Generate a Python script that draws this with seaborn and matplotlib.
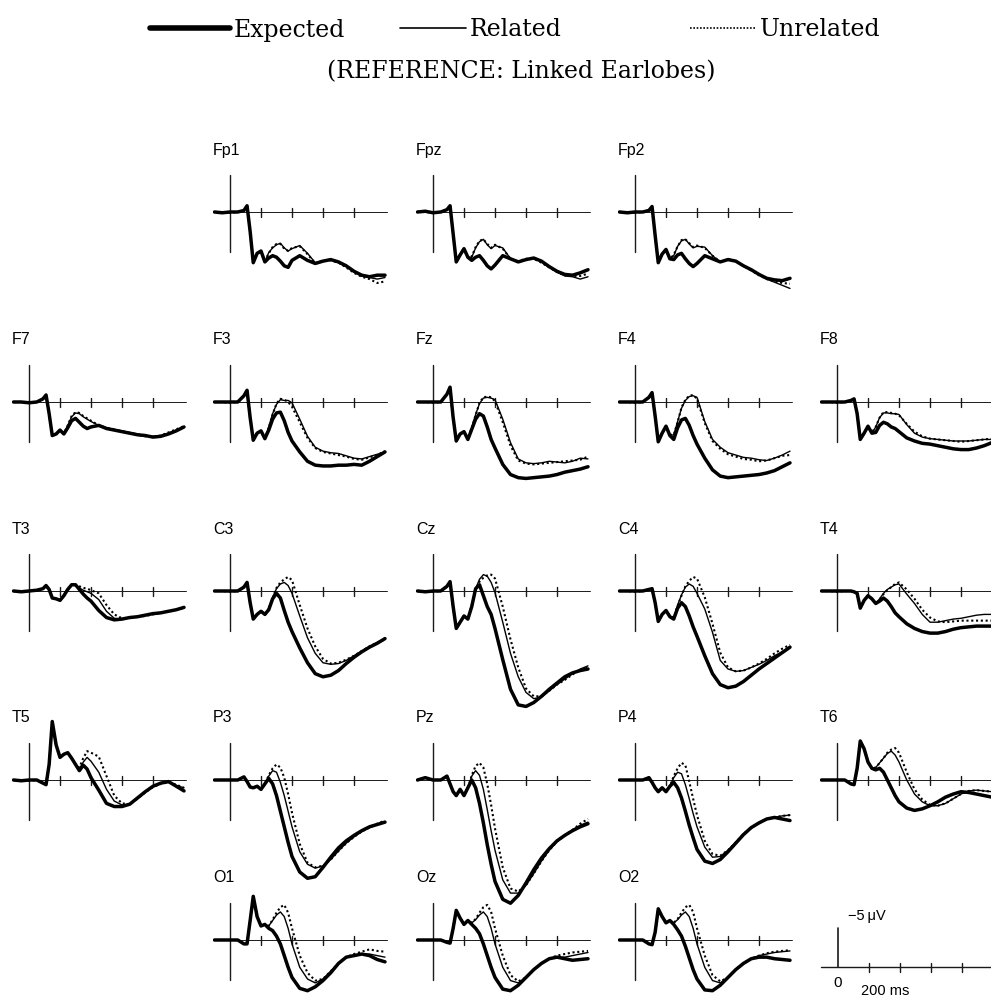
import numpy as np
import pandas as pd
import matplotlib
matplotlib.use("Agg")
import matplotlib.pyplot as plt
from matplotlib.lines import Line2D
import seaborn as sns

sns.set_theme(style="white")
plt.rcParams['font.family'] = ['DejaVu Sans']
plt.rcParams['text.color'] = 'black'

# ---------------- data (µV, negative up) ----------------
T = [-100, -50, 0, 50, 90, 110, 130, 150, 175, 200, 225, 250, 275, 300, 325,
     350, 375, 400, 450, 500, 550, 600, 650, 700, 750, 800, 850, 900, 950, 1000]

CONDITIONS = ["Expected", "Related", "Unrelated"]

Fp1_exp = [0,0.1,0,0,-0.2,-0.8,2.5,6.5,5.3,5.0,6.4,5.9,5.6,5.8,6.3,6.9,7.1,6.2,5.6,6.2,6.6,6.3,6.1,6.4,6.9,7.6,8.1,8.3,8.1,8.1]
Fp1_rel = [0,0.1,0,0,-0.2,-0.8,2.5,6.5,5.3,5.0,6.4,5.2,4.6,4.2,4.0,4.6,5.0,4.7,4.3,5.3,6.5,6.3,6.1,6.5,7.0,7.7,8.2,8.4,8.6,8.4]
Fp1_unr = [0,0,0.1,0,-0.2,-0.7,2.6,6.4,5.4,5.0,6.3,5.3,4.5,4.1,4.1,4.7,5.0,4.6,4.4,5.4,6.6,6.2,6.2,6.5,7.1,7.8,8.3,8.6,9.1,8.9]

Fpz_exp = [0,-0.1,0.1,0,-0.3,-0.8,2.8,6.4,5.5,4.7,5.8,6.2,5.8,5.6,6.2,6.9,7.3,6.8,5.6,6.0,6.4,6.1,5.9,6.3,7.0,7.6,8.0,8.1,7.8,7.4]
Fpz_rel = [0,-0.1,0.1,0,-0.3,-0.8,2.8,6.4,5.5,4.7,5.8,5.8,4.6,3.8,3.5,4.2,4.7,4.3,4.6,6.0,6.3,6.1,5.9,6.4,7.1,7.7,8.2,8.3,8.6,8.3]
Fpz_unr = [0,0,0.1,0,-0.3,-0.7,2.9,6.3,5.5,4.8,5.8,5.7,4.5,3.7,3.5,4.1,4.6,4.2,4.7,6.0,6.3,6.0,6.0,6.5,7.1,7.7,8.1,8.2,8.2,7.9]

Fp2_exp = [0,0.1,0,0,-0.2,-0.7,3.0,6.5,5.4,4.8,6.0,6.1,5.5,5.3,6.0,6.6,7.0,6.6,5.6,6.0,6.4,6.1,6.3,6.9,7.4,8.0,8.5,8.7,8.8,8.5]
Fp2_rel = [0,0.1,0,0,-0.2,-0.7,3.0,6.5,5.4,4.8,6.0,5.6,4.4,3.7,3.5,4.1,4.6,4.4,4.5,5.6,6.4,6.1,6.3,6.9,7.4,8.0,8.6,9.0,9.4,9.8]
Fp2_unr = [0,0,0.1,0,-0.2,-0.6,3.1,6.4,5.4,4.9,6.0,5.5,4.4,3.6,3.5,4.0,4.5,4.3,4.6,5.6,6.4,6.0,6.3,6.9,7.5,8.1,8.6,8.9,9.1,9.2]

F7_exp = [0,0,0.1,0,-0.4,-0.9,1.5,4.3,4.1,3.6,4.1,3.3,2.4,2.1,2.6,3.1,3.4,3.2,3.0,3.4,3.6,3.8,4.0,4.2,4.3,4.5,4.4,4.1,3.7,3.2]
F7_rel = [0,0,0.1,0,-0.4,-0.9,1.5,4.3,4.1,3.6,4.1,3.0,1.9,1.4,1.5,1.9,2.2,2.5,3.0,3.3,3.5,3.7,3.9,4.1,4.3,4.4,4.3,4.0,3.6,3.2]
F7_unr = [0,0,0,0,-0.4,-0.8,1.6,4.2,4.1,3.6,4.0,3.0,1.8,1.3,1.4,1.8,2.1,2.4,3.0,3.3,3.5,3.8,4.0,4.2,4.4,4.5,4.3,3.9,3.5,3.1]

F3_exp = [0,0,0,0,-0.8,-1.5,2.0,4.9,4.0,3.7,4.7,3.6,2.2,1.4,1.3,2.4,3.9,5.0,6.4,7.6,8.1,8.2,8.2,8.1,8.1,8.0,8.1,7.6,7.0,6.4]
F3_rel = [0,0,0,0,-0.8,-1.5,2.0,4.9,4.0,3.7,4.7,3.2,1.5,0.3,-0.3,-0.2,-0.2,0.1,2.2,4.4,5.8,6.3,6.5,6.6,6.9,7.2,7.3,7.0,6.7,6.4]
F3_unr = [0,0,0.1,0,-0.8,-1.4,2.1,4.8,4.0,3.7,4.6,3.3,1.6,0.2,-0.4,-0.3,0.0,0.6,2.6,4.6,5.9,6.4,6.6,6.8,7.0,7.3,7.4,7.1,6.8,6.3]

Fz_exp = [0,0,0,0,-1.0,-1.9,2.0,5.0,4.1,3.8,4.8,3.5,2.2,1.5,1.8,3.2,4.8,5.9,8.0,9.3,9.7,9.8,9.7,9.6,9.5,9.3,9.0,8.8,8.6,8.3]
Fz_rel = [0,0,0,0,-1.0,-1.9,2.0,5.0,4.1,3.8,4.8,3.3,1.6,0.2,-0.5,-0.6,-0.5,-0.3,2.2,5.2,7.3,7.8,7.9,7.8,7.6,7.7,7.8,7.6,7.2,7.3]
Fz_unr = [0,0,0.1,0,-1.0,-1.8,2.1,4.9,4.1,3.8,4.7,3.3,1.7,0.1,-0.6,-0.7,-0.6,-0.1,2.6,5.6,7.5,7.9,8.0,7.9,7.8,7.7,7.6,7.5,7.4,7.0]

F4_exp = [0,0,0,0,-0.6,-1.2,1.8,5.1,4.0,3.1,4.3,4.8,3.3,2.3,2.1,3.0,4.3,5.4,7.2,8.7,9.5,9.7,9.6,9.5,9.4,9.3,9.1,8.8,8.3,7.8]
F4_rel = [0,0,0,0,-0.6,-1.2,1.8,5.1,4.0,3.1,4.3,4.2,2.5,0.8,-0.2,-0.7,-0.8,-0.6,2.5,4.8,5.8,6.5,6.8,7.1,7.2,7.4,7.5,7.2,6.8,6.3]
F4_unr = [0,0,0.1,0,-0.6,-1.1,1.9,5.0,4.0,3.1,4.2,4.2,2.6,0.7,-0.3,-0.8,-0.9,-0.4,2.7,5.0,6.0,6.7,7.0,7.3,7.4,7.6,7.5,7.2,6.9,6.8]

F8_exp = [0,0,0,0,-0.2,-0.4,1.5,4.8,4.0,3.1,4.0,3.9,3.0,2.6,2.8,3.2,3.4,3.8,4.6,5.0,5.3,5.4,5.6,5.8,6.0,6.1,6.1,5.9,5.6,5.2]
F8_rel = [0,0,0,0,-0.2,-0.4,1.5,4.8,4.0,3.1,4.0,3.2,2.0,1.4,1.4,1.5,1.5,1.6,2.9,4.0,4.5,4.7,4.8,4.9,5.0,5.0,5.0,4.9,4.8,4.8]
F8_unr = [0,0,0.1,0,-0.2,-0.3,1.6,4.7,4.0,3.1,3.9,3.2,2.0,1.3,1.3,1.4,1.5,1.7,2.8,3.8,4.4,4.7,4.8,4.9,5.0,5.1,5.0,4.9,4.8,4.7]

T3_exp = [0,0.1,0,-0.1,-0.3,-0.7,-0.2,0.9,1.0,1.2,0.6,-0.2,-0.8,-0.8,-0.2,0.4,0.9,1.3,2.5,3.4,3.7,3.6,3.4,3.3,3.1,2.9,2.8,2.6,2.4,2.1]
T3_rel = [0,0.1,0,-0.1,-0.3,-0.7,-0.2,0.9,1.0,1.2,0.6,-0.2,-0.8,-0.7,-0.4,-0.1,0.1,0.3,1.1,2.6,3.5,3.6,3.4,3.3,3.1,2.9,2.8,2.6,2.4,2.1]
T3_unr = [0,0,0,-0.1,-0.3,-0.6,-0.1,0.9,1.0,1.1,0.6,-0.2,-0.8,-0.8,-0.6,-0.4,-0.3,-0.1,0.3,1.8,3.0,3.5,3.4,3.3,3.2,3.0,2.8,2.6,2.4,2.2]

C3_exp = [0,0,0,0,-0.5,-1.1,1.5,3.6,3.0,2.6,3.0,2.4,1.0,0.3,0.9,2.5,4.0,5.2,7.3,9.2,10.6,11.0,10.8,10.2,9.3,8.5,7.8,7.2,6.7,6.1]
C3_rel = [0,0,0,0,-0.5,-1.1,1.5,3.6,3.0,2.6,3.0,2.2,0.8,-0.3,-0.9,-1.1,-0.7,0.3,3.2,6.0,8.0,9.2,9.4,9.3,8.9,8.3,7.7,7.2,6.6,6.1]
C3_unr = [0,0,0.1,0,-0.5,-1.0,1.6,3.5,3.0,2.6,3.0,2.3,0.9,-0.4,-1.1,-1.5,-1.8,-1.4,1.8,4.8,7.1,8.7,9.3,9.2,8.8,8.3,7.7,7.1,6.6,6.2]

Cz_exp = [0,0.1,0,0,-0.6,-1.2,2.0,4.8,4.0,3.2,3.6,2.0,-0.3,-0.8,0.6,2.0,3.0,4.8,8.8,12.6,14.6,14.8,14.3,13.5,12.6,11.8,11.0,10.5,10.2,10.0]
Cz_rel = [0,0.1,0,0,-0.6,-1.2,2.0,4.8,4.0,3.2,3.6,1.8,-0.3,-1.5,-2.1,-1.9,-1.1,0.2,4.0,8.0,11.0,13.0,13.8,13.6,12.8,12.0,11.3,10.6,10.0,9.6]
Cz_unr = [0,0,0.1,0,-0.6,-1.1,2.1,4.7,4.0,3.2,3.6,1.8,-0.2,-1.2,-1.7,-2.0,-2.1,-1.6,2.0,6.2,9.8,12.5,13.5,13.5,12.8,12.0,11.4,10.7,10.1,9.8]

C4_exp = [0,0,0,0,-0.2,-0.3,1.5,3.9,3.0,2.5,3.3,3.6,2.2,1.5,2.0,3.2,4.6,5.8,8.3,10.6,12.0,12.4,12.2,11.6,10.8,10.0,9.3,8.6,7.9,7.2]
C4_rel = [0,0,0,0,-0.2,-0.3,1.5,3.9,3.0,2.5,3.3,3.4,1.8,0.5,-0.5,-0.9,-0.6,0.3,2.3,5.3,8.9,10.0,10.3,10.2,9.8,9.4,8.9,8.3,7.8,7.2]
C4_unr = [0,0,0.1,0,-0.2,-0.2,1.6,3.8,3.0,2.5,3.2,3.4,1.9,0.6,-0.6,-1.3,-1.8,-1.6,0.8,4.2,7.9,9.8,10.3,10.2,9.8,9.3,8.7,8.0,7.4,6.9]

T4_exp = [0,0,0,0,0,0.1,0.3,2.2,1.2,0.6,1.0,1.6,1.3,0.9,1.3,2.0,2.8,3.3,4.2,4.8,5.2,5.4,5.4,5.2,4.9,4.7,4.6,4.5,4.5,4.5]
T4_rel = [0,0,0,0,0,0.1,0.3,2.2,1.2,0.6,1.0,1.6,1.0,0.3,-0.2,-0.5,-0.8,-0.9,0.4,1.6,3.0,4.0,4.0,3.8,3.6,3.5,3.3,3.1,3.0,3.0]
T4_unr = [0,0,0.1,0,0,0.1,0.4,2.1,1.2,0.6,1.0,1.6,1.1,0.4,-0.1,-0.5,-0.9,-1.1,-0.2,1.0,2.4,3.4,3.9,4.0,3.9,3.8,3.8,3.8,3.8,3.8]

T5_exp = [0,0.1,0,0,0.4,0.6,-2.0,-7.5,-4.5,-2.9,-3.3,-3.5,-2.8,-2.0,-1.2,-1.9,-1.4,-0.3,1.3,3.0,3.4,3.4,3.1,2.3,1.5,0.8,0.4,0.2,0.8,1.4]
T5_rel = [0,0.1,0,0,0.4,0.6,-2.0,-7.5,-4.5,-2.9,-3.3,-3.5,-2.8,-2.0,-1.4,-2.3,-2.9,-2.4,-1.0,1.2,2.7,3.2,3.1,2.4,1.5,0.8,0.4,0.3,0.7,1.0]
T5_unr = [0,0,0.1,0,0.4,0.5,-1.9,-7.4,-4.5,-2.9,-3.3,-3.5,-2.8,-2.0,-1.6,-2.8,-3.7,-3.5,-3.0,-0.5,2.0,3.0,3.1,2.4,1.6,0.9,0.5,0.3,0.6,1.0]

P3_exp = [0,0,0,0,-0.4,0.2,0.9,1.0,0.8,1.2,0.5,-0.2,0.5,2.0,4.0,6.0,8.0,9.8,11.8,12.6,12.4,11.2,9.9,8.7,7.8,7.1,6.5,6.0,5.7,5.4]
P3_rel = [0,0,0,0,-0.4,0.2,0.9,1.0,0.8,1.2,0.5,-0.5,-1.2,-1.0,0.3,2.0,4.0,6.0,9.2,10.8,11.3,11.0,10.2,9.1,8.1,7.3,6.6,6.1,5.7,5.4]
P3_unr = [0,0,0,0,-0.4,0.2,0.9,1.0,0.8,1.2,0.5,-0.6,-1.5,-2.0,-1.6,-0.3,1.8,4.2,8.2,10.6,11.2,11.0,10.2,9.1,8.1,7.3,6.6,6.1,5.6,5.2]

Pz_exp = [0,-0.3,0,0,-0.5,0.5,1.5,2.0,1.2,2.0,1.0,0.0,1.0,3.0,5.5,8.3,10.8,13.0,15.3,15.8,14.8,13.2,11.5,10.0,8.8,7.8,7.1,6.5,6.0,5.6]
Pz_rel = [0,-0.3,0,0,-0.5,0.5,1.5,2.0,1.2,2.0,1.0,-0.5,-1.2,-0.6,1.2,3.8,6.5,9.0,12.8,14.5,14.5,13.5,12.0,10.4,9.0,7.9,7.1,6.4,5.8,5.4]
Pz_unr = [0,-0.3,0,0,-0.5,0.5,1.5,2.0,1.2,2.0,1.0,-0.6,-1.8,-2.2,-1.6,0.5,3.2,6.2,11.2,13.9,14.3,13.5,12.0,10.4,9.0,7.9,7.1,6.4,5.6,5.0]

P4_exp = [0,0,0,0,-0.3,0.3,1.0,1.5,1.0,1.5,0.8,0.3,1.0,2.3,4.0,5.8,7.4,8.9,10.4,10.7,10.2,9.2,8.1,7.0,6.1,5.5,5.0,4.8,5.0,5.2]
P4_rel = [0,0,0,0,-0.3,0.3,1.0,1.5,1.0,1.5,0.8,-0.3,-1.0,-0.8,0.6,2.4,4.3,6.0,8.6,9.9,9.8,9.0,8.0,6.9,6.1,5.5,5.0,4.8,4.6,4.5]
P4_unr = [0,0,0,0,-0.3,0.3,1.0,1.5,1.0,1.5,0.8,-0.5,-1.5,-2.2,-1.9,0.2,2.4,4.5,7.8,9.5,9.7,9.0,8.0,6.9,6.1,5.5,5.0,4.8,4.6,4.5]

T6_exp = [0,0,0,0,0.5,0.6,-1.5,-5.0,-4.0,-2.3,-1.5,-1.3,-1.5,-1.0,0.0,1.0,2.0,2.8,3.6,3.9,3.7,3.3,2.8,2.2,1.8,1.5,1.6,1.8,2.0,2.2]
T6_rel = [0,0,0,0,0.5,0.6,-1.5,-5.0,-4.0,-2.3,-1.5,-1.6,-2.2,-2.8,-3.4,-3.7,-3.2,-2.3,0.0,1.8,2.8,3.3,3.3,3.0,2.4,1.8,1.4,1.3,1.4,1.5]
T6_unr = [0,0,0,0,0.5,0.6,-1.5,-5.0,-4.0,-2.3,-1.5,-1.6,-2.2,-2.8,-3.5,-3.9,-4.1,-3.5,-1.0,1.2,2.5,3.2,3.3,3.0,2.4,1.8,1.4,1.3,1.4,1.5]

O1_exp = [0,0,0,0,0.5,0.5,-2.5,-5.6,-3.0,-1.8,-2.0,-1.5,-1.2,-0.5,0.5,2.0,3.5,4.8,6.2,6.5,6.0,5.2,4.2,3.0,2.2,2.0,1.8,2.0,2.5,2.8]
O1_rel = [0,0,0,0,0.5,0.5,-2.5,-5.6,-3.0,-1.8,-2.0,-1.8,-2.5,-3.2,-3.6,-3.0,-1.5,0.5,3.5,5.0,5.5,5.0,4.0,3.0,2.2,2.0,1.8,1.8,2.0,2.2]
O1_unr = [0,0,0,0,0.5,0.5,-2.5,-5.6,-3.0,-1.8,-2.0,-1.8,-2.6,-3.5,-4.2,-4.5,-3.5,-1.5,2.0,4.2,5.2,5.0,4.0,3.0,2.2,1.8,1.5,1.2,1.4,1.5]

Oz_exp = [0,0,0,0,0.3,0.4,-1.5,-3.8,-2.8,-2.0,-2.5,-2.0,-1.5,-0.8,0.5,2.0,3.5,4.8,6.3,6.5,5.8,4.8,3.8,3.0,2.4,2.2,2.4,2.6,2.5,2.4]
Oz_rel = [0,0,0,0,0.3,0.4,-1.5,-3.8,-2.8,-2.0,-2.5,-2.2,-2.6,-3.2,-3.6,-3.0,-1.5,0.5,3.5,5.2,5.5,4.8,3.8,3.0,2.4,2.2,2.2,2.0,1.8,1.6]
Oz_unr = [0,0,0,0,0.3,0.4,-1.5,-3.8,-2.8,-2.0,-2.5,-2.2,-2.7,-3.5,-4.2,-4.5,-3.6,-1.5,2.0,4.5,5.3,4.8,3.8,3.0,2.4,2.0,1.8,1.6,1.5,1.4]

O2_exp = [0,0,0,0,0.5,0.6,-1.0,-4.0,-3.0,-2.2,-2.5,-2.0,-1.3,-0.5,0.8,2.3,3.8,5.0,6.4,6.5,5.8,4.8,3.8,3.0,2.4,2.2,2.2,2.4,2.5,2.6]
O2_rel = [0,0,0,0,0.5,0.6,-1.0,-4.0,-3.0,-2.2,-2.5,-2.2,-2.6,-3.2,-3.6,-3.0,-1.5,0.5,3.5,5.2,5.5,4.8,3.8,3.0,2.4,2.0,1.8,1.6,1.5,1.4]
O2_unr = [0,0,0,0,0.5,0.6,-1.0,-4.0,-3.0,-2.2,-2.5,-2.2,-2.7,-3.5,-4.2,-4.5,-3.6,-1.5,2.0,4.5,5.3,4.8,3.8,3.0,2.4,2.0,1.7,1.5,1.4,1.3]

# ---------------- layout (pixel positions of onset / baseline) ----------------
COLS = [29, 230, 433, 635, 837]
ROWS = [212, 402, 591, 780, 940]
PANELS = [
    ("Fp1", 1, 0, Fp1_exp, Fp1_rel, Fp1_unr), ("Fpz", 2, 0, Fpz_exp, Fpz_rel, Fpz_unr),
    ("Fp2", 3, 0, Fp2_exp, Fp2_rel, Fp2_unr),
    ("F7", 0, 1, F7_exp, F7_rel, F7_unr), ("F3", 1, 1, F3_exp, F3_rel, F3_unr),
    ("Fz", 2, 1, Fz_exp, Fz_rel, Fz_unr), ("F4", 3, 1, F4_exp, F4_rel, F4_unr),
    ("F8", 4, 1, F8_exp, F8_rel, F8_unr),
    ("T3", 0, 2, T3_exp, T3_rel, T3_unr), ("C3", 1, 2, C3_exp, C3_rel, C3_unr),
    ("Cz", 2, 2, Cz_exp, Cz_rel, Cz_unr), ("C4", 3, 2, C4_exp, C4_rel, C4_unr),
    ("T4", 4, 2, T4_exp, T4_rel, T4_unr),
    ("T5", 0, 3, T5_exp, T5_rel, T5_unr), ("P3", 1, 3, P3_exp, P3_rel, P3_unr),
    ("Pz", 2, 3, Pz_exp, Pz_rel, Pz_unr), ("P4", 3, 3, P4_exp, P4_rel, P4_unr),
    ("T6", 4, 3, T6_exp, T6_rel, T6_unr),
    ("O1", 1, 4, O1_exp, O1_rel, O1_unr), ("Oz", 2, 4, Oz_exp, Oz_rel, Oz_unr),
    ("O2", 3, 4, O2_exp, O2_rel, O2_unr),
]

STYLE = {
    "Expected": dict(lw=2.5, ls="-"),
    "Related": dict(lw=1.0, ls="-"),
    "Unrelated": dict(lw=1.5, ls=(0, (1, 1.3))),
}

W, H = 991, 1007
fig = plt.figure(figsize=(W / 100, H / 100), dpi=100)
fig.patch.set_facecolor("white")

PX_MS = 0.155
PX_UV = 7.8
T_LO, T_HI = -112, 1012
V_TOP, V_BOT = -9.0, 17.0


def make_axes(onset, base):
    left = onset + T_LO * PX_MS
    width = (T_HI - T_LO) * PX_MS
    top = base + V_TOP * PX_UV
    height = (V_BOT - V_TOP) * PX_UV
    ax = fig.add_axes([left / W, 1 - (top + height) / H, width / W, height / H])
    ax.set_xlim(T_LO, T_HI)
    ax.set_ylim(V_BOT, V_TOP)
    ax.set_axis_off()
    ax.patch.set_alpha(0)
    return ax


def frame(ax, up=-4.8, down=5.1):
    ax.plot([-110, 1010], [0, 0], color="k", lw=0.7, clip_on=False)
    ax.plot([0, 0], [up, down], color="k", lw=1.0, clip_on=False)
    for t in (200, 400, 600, 800):
        ax.plot([t, t], [-0.55, 0.6], color="k", lw=1.0, clip_on=False)


for name, c, r, e, rl, u in PANELS:
    onset, base = COLS[c], ROWS[r]
    ax = make_axes(onset, base)
    frame(ax)
    df = pd.DataFrame({
        "t": T * 3,
        "v": list(e) + list(rl) + list(u),
        "cond": ["Expected"] * len(T) + ["Related"] * len(T) + ["Unrelated"] * len(T),
    })
    for cond in ["Unrelated", "Related", "Expected"]:
        sub = df[df["cond"] == cond]
        sns.lineplot(data=sub, x="t", y="v", ax=ax, color="black",
                     linewidth=STYLE[cond]["lw"], linestyle=STYLE[cond]["ls"],
                     estimator=None, sort=False, legend=False)
    ax.set_xlim(T_LO, T_HI)
    ax.set_ylim(V_BOT, V_TOP)
    ax.set_axis_off()
    fig.text((onset - 17) / W, 1 - (base - 62) / H, name, ha="left", va="center",
             fontsize=11.5, color="black", family=["Liberation Sans", "DejaVu Sans"])

# calibration
ax = make_axes(838, 967)
ax.plot([-110, 1010], [0, 0], color="k", lw=1.0, clip_on=False)
ax.plot([0, 0], [-5, 0], color="k", lw=1.2, clip_on=False)
for t in (200, 400, 600, 800):
    ax.plot([t, t], [-0.55, 0.6], color="k", lw=1.0, clip_on=False)
fig.text(848 / W, 1 - 916 / H, "\u22125\u2009\u03bcV", ha="left", va="center",
         fontsize=10.5, color="black", family=["Liberation Sans", "DejaVu Sans"])
fig.text(838 / W, 1 - 983 / H, "0", ha="center", va="center",
         fontsize=11, color="black", family=["Liberation Sans", "DejaVu Sans"])
fig.text(885 / W, 1 - 991 / H, "200 ms", ha="center", va="center",
         fontsize=10.5, color="black", family=["Liberation Sans", "DejaVu Sans"])

# legend / header
serif = ["DejaVu Serif"]
def fig_line(x0, x1, y, **kw):
    fig.add_artist(Line2D([x0 / W, x1 / W], [1 - y / H, 1 - y / H],
                          transform=fig.transFigure, color="black", **kw))

fig_line(150, 230, 28, lw=4.0)
fig.text(234 / W, 1 - 30 / H, "Expected", ha="left", va="center", fontsize=17,
         color="black", family=serif)
fig_line(400, 466, 28, lw=1.2)
fig.text(470 / W, 1 - 30 / H, "Related", ha="left", va="center", fontsize=17,
         color="black", family=serif)
fig_line(690, 755, 28, lw=1.2, ls=(0, (1, 1)))
fig.text(760 / W, 1 - 30 / H, "Unrelated", ha="left", va="center", fontsize=17,
         color="black", family=serif)
fig.text(521 / W, 1 - 72 / H, "(REFERENCE: Linked Earlobes)", ha="center", va="center",
         fontsize=17, color="black", family=serif)

fig.savefig("out.png", dpi=100, facecolor="white")
